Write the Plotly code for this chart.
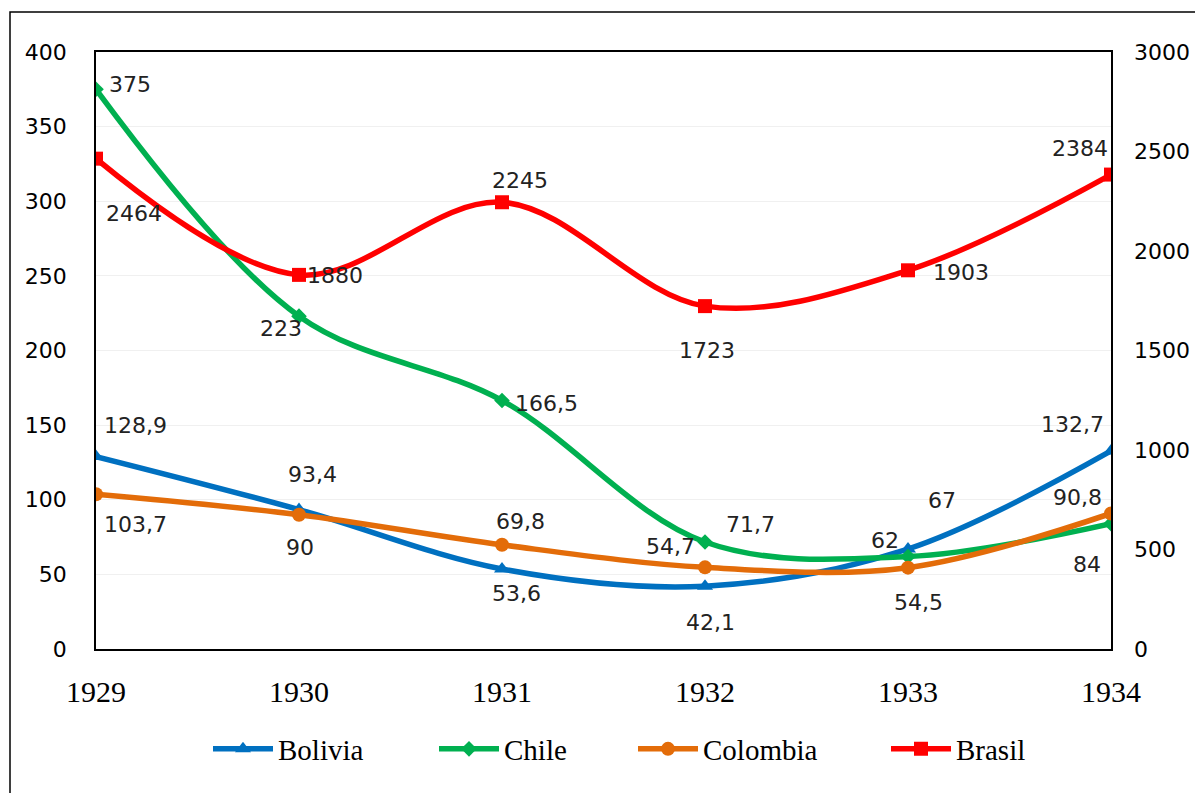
import plotly.graph_objects as go

years = [1929, 1930, 1931, 1932, 1933, 1934]
bolivia = [128.9, 93.4, 53.6, 42.1, 67, 132.7]
chile = [375, 223, 166.5, 71.7, 62, 84]
colombia = [103.7, 90, 69.8, 54.7, 54.5, 90.8]
brasil = [2464, 1880, 2245, 1723, 1903, 2384]

# label offsets in pixels (dx, dy) relative to each point; dy positive = downward
off_bolivia = [(39, -31), (13, -35), (14, 24), (5, 36), (34, -49), (-39, -26)]
off_chile = [(34, -5), (-18, 12), (44, 3), (45, -17), (-23, -16), (-24, 41)]
off_colombia = [(39, 30), (1, 33), (18, -23), (-35, -21), (10, 35), (-34, -16)]
off_brasil = [(38, 55), (36, 1), (18, -22), (2, 44), (53, 2), (-31, -26)]
legend_widths = [151, 124, 178, 120]

def fmt(v):
    return f"{v:g}".replace(".", ",")

fig = go.Figure()
series = [
    ("Bolivia", bolivia, "#0070C0", "triangle-up", "y", off_bolivia),
    ("Chile", chile, "#00B050", "diamond", "y", off_chile),
    ("Colombia", colombia, "#E36C09", "circle", "y", off_colombia),
    ("Brasil", brasil, "#FF0000", "square", "y2", off_brasil),
]
annotations = []
for (name, vals, col, sym, ax, offs), lw in zip(series, legend_widths):
    fig.add_trace(go.Scatter(
        x=years, y=vals, name=name, yaxis=ax, mode="lines+markers",
        line=dict(color=col, width=5.5, shape="spline", smoothing=1.0),
        marker=dict(symbol=sym, size=14 if sym != "diamond" else 12, color=col),
        legendwidth=lw,
    ))
    for x, v, (dx, dy) in zip(years, vals, offs):
        annotations.append(dict(
            x=x, y=v, xref="x", yref=ax, text=fmt(v), showarrow=False,
            xshift=dx, yshift=-dy, font=dict(family="DejaVu Sans", size=22, color="#222"),
        ))

# page has an 8px body margin: figure coordinates = page coordinates - 8
W, H = 1195, 785
L, R, T, B = 88, 92, 44, 144
pw, ph = W - L - R, H - T - B
def px2paper_x(px):
    return (px - L) / pw
def px2paper_y(py):
    return (H - B - py) / ph

fig.add_shape(type="rect", xref="paper", yref="paper",
              x0=px2paper_x(2), x1=px2paper_x(1197), y0=px2paper_y(800), y1=px2paper_y(4),
              line=dict(color="black", width=1.5), fillcolor="rgba(0,0,0,0)", layer="below")

fig.update_layout(
    width=W, height=H,
    margin=dict(l=L, r=R, t=T, b=B, autoexpand=False),
    paper_bgcolor="white", plot_bgcolor="white",
    showlegend=True,
    legend=dict(orientation="h", x=px2paper_x(200), xanchor="left", y=px2paper_y(741), yanchor="middle",
                font=dict(family="Liberation Serif", size=29, color="black"),
                itemwidth=60, tracegroupgap=0),
    annotations=annotations,
    xaxis=dict(range=[1929, 1934], tickvals=years, ticktext=[str(y) for y in years],
               showgrid=False, showline=True, linecolor="black", linewidth=1.5, mirror=True,
               ticks="", ticklabelstandoff=15, automargin=False,
               tickfont=dict(family="Liberation Serif", size=30, color="black"), zeroline=False),
    yaxis=dict(range=[0, 400], dtick=50, showgrid=True, gridcolor="#f0f0f0", gridwidth=1,
               showline=True, linecolor="black", linewidth=1.5, mirror=True, ticks="",
               ticklabelstandoff=23, zeroline=False, automargin=False,
               tickfont=dict(family="DejaVu Sans", size=22, color="black")),
    yaxis2=dict(range=[0, 3000], dtick=500, overlaying="y", side="right", showgrid=False,
                ticks="", ticklabelstandoff=22, zeroline=False, showline=False, automargin=False,
                tickfont=dict(family="DejaVu Sans", size=22, color="black")),
)

fig.write_html("out.html")
